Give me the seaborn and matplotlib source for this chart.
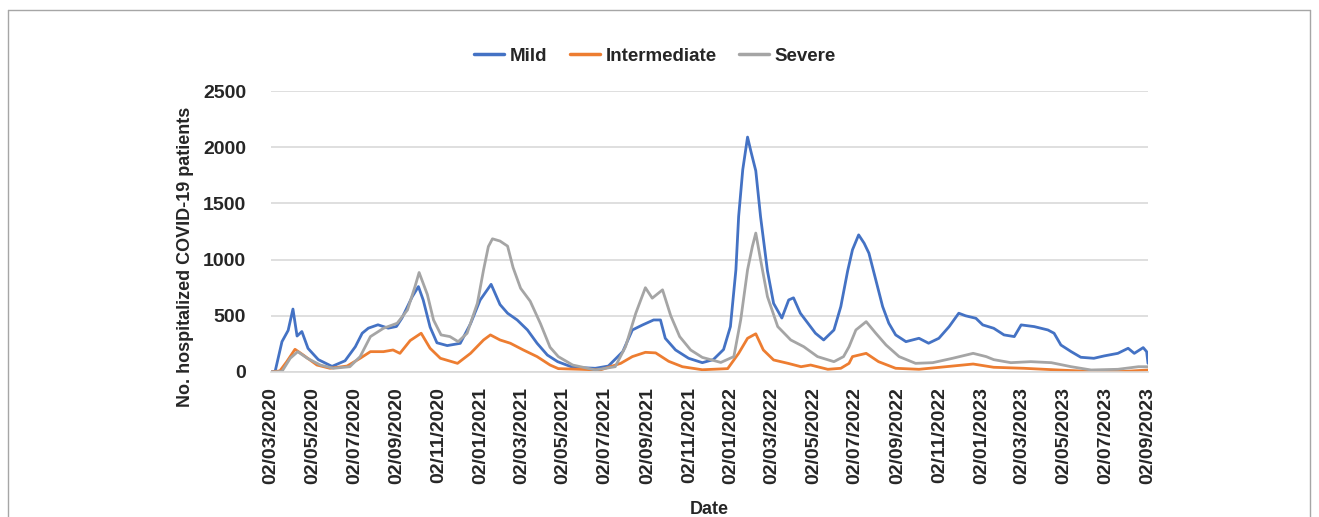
import pandas as pd
import matplotlib.pyplot as plt
import matplotlib.dates as mdates
from matplotlib.lines import Line2D
import seaborn as sns

# values (dates are dd/mm on the axis, stored ISO here)
mild_dates = [
    "2020-03-02", "2020-03-08", "2020-03-18", "2020-03-27", "2020-04-03", "2020-04-09",
    "2020-04-16", "2020-04-25", "2020-05-10", "2020-05-30", "2020-06-18", "2020-07-03",
    "2020-07-13", "2020-07-22", "2020-08-05", "2020-08-20", "2020-09-01", "2020-09-09",
    "2020-09-24", "2020-10-03", "2020-10-10", "2020-10-20", "2020-10-30", "2020-11-14",
    "2020-12-03", "2020-12-18", "2021-01-01", "2021-01-17", "2021-01-30", "2021-02-10",
    "2021-02-24", "2021-03-11", "2021-03-25", "2021-04-09", "2021-04-24", "2021-05-16",
    "2021-06-18", "2021-07-07", "2021-07-28", "2021-08-11", "2021-08-26", "2021-09-11",
    "2021-09-21", "2021-09-28", "2021-10-13", "2021-11-01", "2021-11-21", "2021-12-07",
    "2021-12-22", "2022-01-01", "2022-01-09", "2022-01-13", "2022-01-19", "2022-01-26",
    "2022-01-31", "2022-02-07", "2022-02-14", "2022-02-24", "2022-03-05", "2022-03-17",
    "2022-03-27", "2022-04-03", "2022-04-13", "2022-04-24", "2022-05-05", "2022-05-17",
    "2022-06-01", "2022-06-11", "2022-06-21", "2022-06-28", "2022-07-07", "2022-07-15",
    "2022-07-22", "2022-08-01", "2022-08-11", "2022-08-20", "2022-08-30", "2022-09-14",
    "2022-10-03", "2022-10-17", "2022-11-01", "2022-11-16", "2022-11-30", "2022-12-10",
    "2022-12-25", "2023-01-04", "2023-01-20", "2023-02-04", "2023-02-19", "2023-03-01",
    "2023-03-20", "2023-04-09", "2023-04-18", "2023-04-28", "2023-05-13", "2023-05-27",
    "2023-06-15", "2023-06-30", "2023-07-20", "2023-08-04", "2023-08-13", "2023-08-26",
    "2023-08-31", "2023-09-02",
]
mild = [
    0, 5, 270, 370, 560, 320, 360, 210, 110, 50, 100, 225,
    345, 390, 420, 390, 405, 480, 670, 760, 640, 400, 260, 235,
    255, 430, 640, 780, 600, 523, 463, 374, 256, 151, 92, 42,
    33, 53, 181, 374, 419, 463, 463, 300, 196, 122, 83, 110,
    200, 404, 909, 1384, 1800, 2090, 1960, 1790, 1380, 900, 610, 480,
    641, 660, 523, 434, 345, 285, 374, 582, 900, 1087, 1220, 1146,
    1057, 820, 582, 434, 330, 270, 300, 256, 300, 404, 523, 500,
    478, 419, 389, 330, 315, 419, 404, 374, 345, 240, 181, 131,
    122, 143, 166, 211, 166, 217, 181, 77,
]

inter_dates = [
    "2020-03-02", "2020-03-15", "2020-03-25", "2020-04-06", "2020-04-18", "2020-05-08",
    "2020-05-27", "2020-06-21", "2020-07-10", "2020-07-25", "2020-08-13", "2020-08-27",
    "2020-09-06", "2020-09-21", "2020-10-07", "2020-10-20", "2020-11-04", "2020-11-29",
    "2020-12-18", "2021-01-06", "2021-01-16", "2021-01-30", "2021-02-14", "2021-03-05",
    "2021-03-25", "2021-04-13", "2021-04-25", "2021-05-27", "2021-06-25", "2021-07-25",
    "2021-08-11", "2021-08-30", "2021-09-14", "2021-10-03", "2021-10-23", "2021-11-21",
    "2021-12-28", "2022-01-13", "2022-01-26", "2022-02-07", "2022-02-18", "2022-03-05",
    "2022-03-26", "2022-04-14", "2022-04-28", "2022-05-23", "2022-06-11", "2022-06-23",
    "2022-06-28", "2022-07-18", "2022-08-05", "2022-08-30", "2022-10-03", "2022-11-11",
    "2022-12-21", "2023-01-20", "2023-03-05", "2023-04-24", "2023-06-11", "2023-07-29",
    "2023-09-02",
]
intermediate = [
    0, 10, 92, 202, 151, 62, 33, 53, 122, 181, 181, 196,
    166, 280, 345, 211, 122, 77, 166, 285, 330, 285, 256, 196,
    137, 62, 30, 24, 18, 77, 137, 175, 170, 95, 47, 20,
    30, 166, 300, 340, 196, 107, 77, 47, 62, 24, 33, 77,
    137, 166, 92, 33, 24, 47, 71, 42, 33, 18, 5, 5,
    18,
]

severe_dates = [
    "2020-03-02", "2020-03-18", "2020-03-30", "2020-04-10", "2020-04-24", "2020-05-13",
    "2020-06-01", "2020-06-25", "2020-07-10", "2020-07-25", "2020-08-13", "2020-09-02",
    "2020-09-17", "2020-09-28", "2020-10-04", "2020-10-16", "2020-10-25", "2020-11-05",
    "2020-11-18", "2020-11-30", "2020-12-13", "2020-12-28", "2021-01-06", "2021-01-13",
    "2021-01-19", "2021-01-30", "2021-02-10", "2021-02-18", "2021-03-01", "2021-03-15",
    "2021-03-30", "2021-04-13", "2021-04-25", "2021-05-16", "2021-06-18", "2021-07-17",
    "2021-08-01", "2021-08-16", "2021-08-30", "2021-09-09", "2021-09-24", "2021-10-06",
    "2021-10-19", "2021-11-04", "2021-11-21", "2021-12-18", "2022-01-06", "2022-01-16",
    "2022-01-26", "2022-02-02", "2022-02-07", "2022-02-14", "2022-02-24", "2022-03-11",
    "2022-03-30", "2022-04-18", "2022-05-08", "2022-06-01", "2022-06-15", "2022-06-23",
    "2022-07-03", "2022-07-18", "2022-08-01", "2022-08-16", "2022-09-04", "2022-09-28",
    "2022-10-23", "2022-11-21", "2022-12-21", "2023-01-09", "2023-01-20", "2023-02-14",
    "2023-03-15", "2023-04-14", "2023-05-13", "2023-06-11", "2023-07-20", "2023-08-19",
    "2023-09-02",
]
severe = [
    0, 5, 122, 181, 122, 62, 33, 47, 137, 315, 389, 434,
    552, 760, 885, 690, 463, 330, 315, 270, 345, 612, 909, 1116,
    1185, 1165, 1120, 930, 745, 630, 430, 220, 137, 62, 18, 47,
    225, 523, 750, 657, 731, 500, 315, 196, 130, 85, 137, 463,
    909, 1116, 1236, 998, 671, 404, 285, 225, 137, 92, 137, 225,
    374, 448, 345, 240, 137, 77, 83, 122, 166, 137, 110, 83,
    92, 83, 47, 18, 24, 47, 47,
]

series_names = ["Mild", "Intermediate", "Severe"]
colors = ["#4472C4", "#ED7D31", "#A5A5A5"]

frames = []
for name, d, v in zip(series_names, [mild_dates, inter_dates, severe_dates],
                      [mild, intermediate, severe]):
    frames.append(pd.DataFrame({"date": pd.to_datetime(d), "patients": v, "series": name}))
df = pd.concat(frames, ignore_index=True)

sns.set_style("white")
plt.rcParams["font.family"] = ["Liberation Sans", "DejaVu Sans"]

fig = plt.figure(figsize=(13.19, 5.17), dpi=100)
ax = fig.add_axes([271 / 1319, 1 - 372 / 517, (1148 - 271) / 1319, (372 - 91) / 517])

sns.lineplot(data=df, x="date", y="patients", hue="series", hue_order=series_names,
             palette=colors, estimator=None, linewidth=2.0, ax=ax, legend=False)

start = pd.Timestamp("2020-03-02")
end = pd.Timestamp("2023-09-02")
ax.set_xlim(start, end)
ax.set_ylim(0, 2500)
ax.set_yticks(range(0, 2501, 500))

# ticks on the 2nd of every other month, 02/03/2020 ... 02/09/2023
ticks = pd.date_range("2020-03-01", "2023-09-01", freq="2MS") + pd.Timedelta(days=1)
ax.set_xticks(ticks)
ax.xaxis.set_major_formatter(mdates.DateFormatter("%d/%m/%Y"))
for lab in ax.get_xticklabels():
    lab.set_rotation(90)
    lab.set_fontweight("bold")
    lab.set_fontsize(14)
for lab in ax.get_yticklabels():
    lab.set_fontweight("bold")
    lab.set_fontsize(14)

ax.tick_params(axis="x", length=5, width=1, color="#D9D9D9", pad=6)
ax.tick_params(axis="y", length=0, pad=18)
ax.grid(axis="y", color="#D9D9D9", linewidth=1.2)
ax.grid(axis="x", visible=False)
for side in ["top", "right", "left"]:
    ax.spines[side].set_visible(False)
ax.spines["bottom"].set_color("#D9D9D9")
ax.spines["bottom"].set_linewidth(1.2)
ax.set_xlabel("")
ax.set_ylabel("")

fig.text(186 / 1319, 1 - 257 / 517, "No. hospitalized COVID-19 patients",
         rotation=90, ha="center", va="center", fontsize=13, fontweight="bold")
fig.text(709 / 1319, 1 - 510 / 517, "Date", ha="center", va="center",
         fontsize=13, fontweight="bold")

handles = [Line2D([0], [0], color=c, linewidth=2.5) for c in colors]
fig.legend(handles, series_names, loc="center", bbox_to_anchor=(655 / 1319, 1 - 56 / 517),
           ncol=3, frameon=False, handlelength=1.6, handletextpad=0.3, columnspacing=1.2,
           prop={"weight": "bold", "size": 13.5})

# outer chart border
border_color = "#A6A6A6"
fig.add_artist(Line2D([8 / 1319, 1310 / 1319], [1 - 10 / 517, 1 - 10 / 517],
                      color=border_color, linewidth=1))
fig.add_artist(Line2D([8 / 1319, 8 / 1319], [0, 1 - 10 / 517], color=border_color, linewidth=1))
fig.add_artist(Line2D([1310 / 1319, 1310 / 1319], [0, 1 - 10 / 517],
                      color=border_color, linewidth=1))

fig.savefig("out.png", dpi=100)
